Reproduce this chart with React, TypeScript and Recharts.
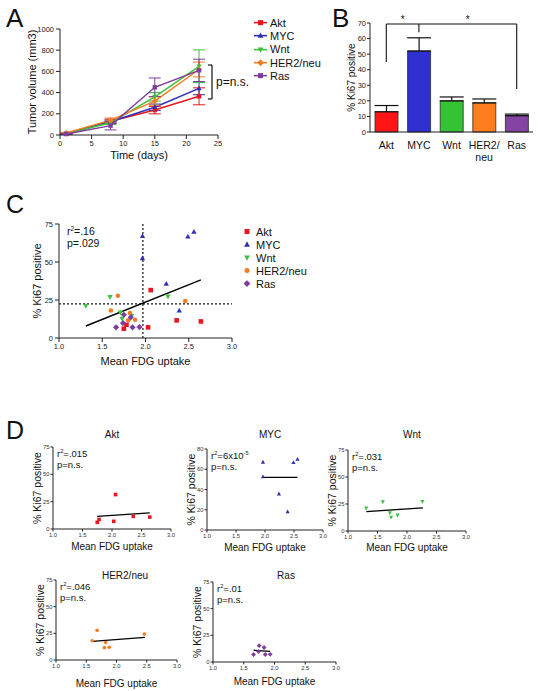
import React from 'react';
import {
  LineChart, Line, BarChart, Bar, Cell, ScatterChart, Scatter, XAxis, YAxis,
  ErrorBar, ReferenceLine, Legend, Label,
} from 'recharts';

const FONT = 'Arial, "Liberation Sans", Helvetica, sans-serif';

type Shape = 'square' | 'triangle' | 'down' | 'circle' | 'diamond';

// ---- genotype styling ----
const groups = ['Akt', 'MYC', 'Wnt', 'HER2/neu', 'Ras'];
const groupKeys = ['akt', 'myc', 'wnt', 'her', 'ras'];
const groupColors = ['#e8171d', '#2f2fb8', '#3cc23c', '#f47b20', '#7e3f9c'];
const barColors = ['#ff1515', '#2f2fd2', '#35c235', '#ff7d1e', '#8543a3'];
const growthShapes: Shape[] = ['square', 'triangle', 'down', 'diamond', 'square'];
const scatterShapes: Shape[] = ['square', 'triangle', 'down', 'circle', 'diamond'];

// ---- A: tumour volume over time ----
const days = [1, 8, 15, 22];
const aktVolume = [10, 130, 235, 365];
const aktVolumeErr = [5, 20, 35, 80];
const mycVolume = [10, 125, 262, 440];
const mycVolumeErr = [5, 15, 30, 60];
const wntVolume = [15, 115, 360, 648];
const wntVolumeErr = [5, 15, 40, 155];
const herVolume = [20, 140, 320, 618];
const herVolumeErr = [5, 20, 40, 70];
const rasVolume = [10, 88, 450, 610];
const rasVolumeErr = [5, 40, 88, 105];
const volumeTicks = [0, 200, 400, 600, 800, 1000];
const dayTicks = [0, 5, 10, 15, 20, 25];

// ---- B: Ki67 per genotype ----
const ki67Mean = [13, 52, 20, 18.7, 10.5];
const ki67Sem = [4, 8.5, 2.5, 2.5, 1];
const ki67Ticks = [0, 10, 20, 30, 40, 50, 60, 70];

// ---- C / D: Ki67 vs mean FDG uptake ----
const aktFdg = [2.06, 1.75, 1.78, 2.03, 2.36, 2.64];
const aktKi67 = [31.5, 6.1, 8.7, 7, 11.6, 10.9];
const mycFdg = [1.965, 1.965, 2.49, 2.56, 2.24, 2.39];
const mycKi67 = [67, 52.5, 66.7, 69.8, 35.6, 18];
const wntFdg = [1.31, 1.59, 2.26, 1.71, 1.73, 1.84];
const wntKi67 = [21.2, 27, 27.3, 16.8, 12.7, 14.7];
const herFdg = [1.68, 1.6, 1.82, 1.88, 1.8, 2.46];
const herKi67 = [27.8, 18.1, 16.4, 12, 11.6, 24.3];
const rasFdg = [1.66, 1.75, 1.74, 1.83, 1.85, 1.93];
const rasKi67 = [7, 15.3, 9.8, 13.6, 7, 7.2];

const allFit = [[1.31, 7.9], [2.64, 38.2]];
const aktFit = [[1.75, 11.5], [2.64, 14.8]];
const mycFit = [[1.965, 52], [2.56, 52]];
const wntFit = [[1.31, 18], [2.27, 21.5]];
const herFit = [[1.6, 17.4], [2.47, 21.3]];
const rasFit = [[1.66, 11], [1.93, 10]];
const medianFdg = 1.97;
const medianKi67 = 22.5;
const fdgTicks = [1, 1.5, 2, 2.5, 3];
const ki67Ticks75 = [0, 25, 50, 75];
const ki67Ticks80 = [0, 20, 40, 60, 80];

const growthSeries = [
  { vol: aktVolume, err: aktVolumeErr },
  { vol: mycVolume, err: mycVolumeErr },
  { vol: wntVolume, err: wntVolumeErr },
  { vol: herVolume, err: herVolumeErr },
  { vol: rasVolume, err: rasVolumeErr },
];
const growthData = days.map((day, i) => {
  const row: Record<string, number> = { day };
  groupKeys.forEach((k, g) => {
    row[k] = growthSeries[g].vol[i];
    row[k + 'Err'] = growthSeries[g].err[i];
  });
  return row;
});

const ki67Data = groups.map((name, i) => ({ name, mean: ki67Mean[i], sem: [0, ki67Sem[i]] }));

const toPoints = (xs: number[], ys: number[]) => xs.map((fdg, i) => ({ fdg, ki67: ys[i] }));
const scatterSets = [
  toPoints(aktFdg, aktKi67), toPoints(mycFdg, mycKi67), toPoints(wntFdg, wntKi67),
  toPoints(herFdg, herKi67), toPoints(rasFdg, rasKi67),
];
const seg = (f: number[][]) => f.map(([x, y]) => ({ x, y }));

function Marker({ cx, cy, shape, fill, r }: { cx?: number; cy?: number; shape: Shape; fill: string; r: number }) {
  if (cx == null || cy == null || Number.isNaN(cx) || Number.isNaN(cy)) return <g />;
  if (shape === 'square') return <rect x={cx - r} y={cy - r} width={r * 2} height={r * 2} fill={fill} />;
  if (shape === 'circle') return <circle cx={cx} cy={cy} r={r} fill={fill} />;
  if (shape === 'diamond') {
    const d = r * 1.35;
    return <polygon points={`${cx},${cy - d} ${cx + d},${cy} ${cx},${cy + d} ${cx - d},${cy}`} fill={fill} />;
  }
  const s = shape === 'triangle' ? 1 : -1;
  return (
    <polygon
      points={`${cx},${cy - s * r * 1.3} ${cx - r * 1.15},${cy + s * r * 0.85} ${cx + r * 1.15},${cy + s * r * 0.85}`}
      fill={fill}
    />
  );
}

function LegendBox({ withLine, rowH, fontSize }: { withLine: boolean; rowH: number; fontSize: number }) {
  const shapes = withLine ? growthShapes : scatterShapes;
  return (
    <div style={{ fontFamily: FONT }}>
      {groups.map((g, i) => (
        <div key={g} style={{ height: rowH, display: 'flex', alignItems: 'center', fontSize, color: '#111' }}>
          <svg width={withLine ? 15 : 10} height={rowH} style={{ marginRight: withLine ? 2 : 3 }}>
            {withLine && <line x1={1} x2={14} y1={rowH / 2} y2={rowH / 2} stroke={groupColors[i]} strokeWidth={1.6} />}
            <Marker cx={withLine ? 7.5 : 4} cy={rowH / 2} shape={shapes[i]} fill={groupColors[i]} r={2.5} />
          </svg>
          <span>{g}</span>
        </div>
      ))}
    </div>
  );
}

function Txt({ x, y, size, children, center }: { x: number; y: number; size: number; children: React.ReactNode; center?: boolean }) {
  return (
    <div style={{
      position: 'absolute', left: x, top: y, fontSize: size, lineHeight: 1, whiteSpace: 'nowrap',
      transform: center ? 'translate(-50%, -50%)' : 'translate(0, -50%)', color: '#111',
    }}>{children}</div>
  );
}

const sup = { fontSize: '0.6em', verticalAlign: 'super', lineHeight: 0 } as const;

const BracketTick = (p: any) => {
  const label = String(p.payload.value);
  const cut = label.indexOf('/');
  const lines = cut >= 0 ? [label.slice(0, cut + 1), label.slice(cut + 1)] : [label];
  return (
    <text x={p.x} y={p.y + 17} textAnchor="middle" fontSize={10.5} fill="#111">
      {lines.map((l, i) => <tspan key={i} x={p.x} dy={i ? 12 : 0}>{l}</tspan>)}
    </text>
  );
};

function FdgPanel({ x0, y0, w, h, title, titleX, titleY, g, fit, yMax, yTicks, stat, xLabelGap }: {
  x0: number; y0: number; w: number; h: number; title: string; titleX: number; titleY: number; g: number;
  fit: number[][]; yMax: number; yTicks: number[]; stat: React.ReactNode; xLabelGap: number;
}) {
  const yw = 30, mt = 10, mr = 12, xh = 32;
  return (
    <>
      <Txt x={titleX} y={titleY} size={10} center>{title}</Txt>
      <div style={{ position: 'absolute', left: x0 - yw, top: y0 - mt }}>
        <ScatterChart width={yw + w + mr} height={mt + h + xh} margin={{ top: mt, right: mr, left: 0, bottom: 0 }}>
          <XAxis type="number" dataKey="fdg" domain={[1, 3]} ticks={fdgTicks} tickFormatter={(v: number) => v.toFixed(1)}
            height={xh} tickSize={2.5} tickMargin={1} stroke="#222" tick={{ fill: '#333', fontSize: 5.8 }}>
            <Label value="Mean FDG uptake" position="center" dy={xLabelGap - xh / 2} fontSize={10} fill="#111" />
          </XAxis>
          <YAxis type="number" dataKey="ki67" domain={[0, yMax]} ticks={yTicks} width={yw}
            tickSize={2.5} tickMargin={1} stroke="#222" tick={{ fill: '#333', fontSize: 5.8 }}>
            <Label value="% Ki67 positive" position="center" angle={-90} dx={-1} fontSize={10.5} fill="#111" />
          </YAxis>
          <Scatter data={scatterSets[g]} isAnimationActive={false}
            shape={(p: any) => <Marker cx={p.cx} cy={p.cy} shape={scatterShapes[g]} fill={groupColors[g]} r={1.8} />} />
          <ReferenceLine segment={seg(fit)} stroke="#000" strokeWidth={1.3} ifOverflow="visible" />
        </ScatterChart>
      </div>
      <div style={{ position: 'absolute', left: x0 + 4, top: y0 + 1, fontSize: 9.5, lineHeight: '11px', color: '#111' }}>
        {stat}
        <div>p=n.s.</div>
      </div>
    </>
  );
}

export default function App() {
  return (
    <div style={{
      position: 'absolute', left: 0, top: 0, width: 541, height: 691, background: '#fff',
      fontFamily: FONT, color: '#111', overflow: 'hidden',
    }}>
      {/* panel letters */}
      <div style={{ position: 'absolute', left: 6, top: 5, fontSize: 26, lineHeight: 1 }}>A</div>
      <div style={{ position: 'absolute', left: 332, top: 5, fontSize: 26, lineHeight: 1 }}>B</div>
      <div style={{ position: 'absolute', left: 6, top: 192, fontSize: 25, lineHeight: 1 }}>C</div>
      <div style={{ position: 'absolute', left: 6, top: 418, fontSize: 25, lineHeight: 1 }}>D</div>

      {/* A: tumour growth */}
      <div style={{ position: 'absolute', left: 0, top: 0 }}>
        <LineChart width={330} height={170} data={growthData} margin={{ top: 29, right: 112, left: 0, bottom: 0 }}>
          <XAxis type="number" dataKey="day" domain={[0, 25]} ticks={dayTicks} height={35}
            tickSize={4} stroke="#222" tick={{ fill: '#222', fontSize: 7.5 }}>
            <Label value="Time (days)" position="center" dy={3} fontSize={11} fill="#111" />
          </XAxis>
          <YAxis type="number" domain={[0, 1000]} ticks={volumeTicks} width={60}
            tickSize={4} stroke="#222" tick={{ fill: '#222', fontSize: 7.5 }}>
            <Label value="Tumor volume (mm3)" position="center" angle={-90} dx={2} fontSize={11} fill="#111" />
          </YAxis>
          {groupKeys.map((k, i) => (
            <Line key={k} dataKey={k} name={groups[i]} type="linear" stroke={groupColors[i]} strokeWidth={1.5}
              isAnimationActive={false}
              dot={(p: any) => <Marker key={p.index} cx={p.cx} cy={p.cy} shape={growthShapes[i]} fill={groupColors[i]} r={2.2} />}>
              <ErrorBar dataKey={k + 'Err'} width={6} stroke={groupColors[i]} strokeWidth={1} isAnimationActive={false} />
            </Line>
          ))}
          <ReferenceLine segment={[{ x: 24.05, y: 340 }, { x: 24.05, y: 660 }]} stroke="#111" strokeWidth={1.2} ifOverflow="visible"
            label={{ value: 'p=n.s.', position: 'right', offset: 4, fontSize: 12, fill: '#111' }} />
          <ReferenceLine segment={[{ x: 23.4, y: 660 }, { x: 24.05, y: 660 }]} stroke="#111" strokeWidth={1.2} ifOverflow="visible" />
          <ReferenceLine segment={[{ x: 23.4, y: 340 }, { x: 24.05, y: 340 }]} stroke="#111" strokeWidth={1.2} ifOverflow="visible" />
          <Legend layout="vertical" align="center" verticalAlign="middle"
            wrapperStyle={{ left: 253, top: 16, width: 80, height: 70 }}
            content={() => <LegendBox withLine rowH={13.3} fontSize={11} />} />
        </LineChart>
      </div>

      {/* B: Ki67 bars */}
      <div style={{ position: 'absolute', left: 330, top: 0 }}>
        <BarChart width={211} height={170} data={ki67Data} margin={{ top: 23, right: 8, left: 0, bottom: 0 }}>
          <XAxis dataKey="name" height={38} tickLine={false} tickSize={0} tickMargin={0} stroke="#222" tick={BracketTick} interval={0} />
          <YAxis type="number" domain={[0, 70]} ticks={ki67Ticks} width={40}
            tickSize={3} tickMargin={1} stroke="#222" tick={{ fill: '#222', fontSize: 7.5 }}>
            <Label value="% Ki67 positive" position="center" angle={-90} dx={1} fontSize={10} fill="#111" />
          </YAxis>
          <Bar dataKey="mean" barSize={23} stroke="#2a2a2a" strokeWidth={0.8} isAnimationActive={false}>
            {ki67Data.map((d, i) => <Cell key={d.name} fill={barColors[i]} />)}
            <ErrorBar dataKey="sem" width={12} stroke="#111" strokeWidth={1.2} isAnimationActive={false} />
          </Bar>
          <ReferenceLine segment={[{ x: 'Akt', y: 45 }, { x: 'Akt', y: 69.4 }]} stroke="#111" strokeWidth={1.1} ifOverflow="visible" />
          <ReferenceLine segment={[{ x: 'Akt', y: 69.4 }, { x: 'MYC', y: 69.4 }]} stroke="#111" strokeWidth={1.1} ifOverflow="visible"
            label={{ value: '*', position: 'top', offset: 1, fontSize: 10, fill: '#111' }} />
          <ReferenceLine segment={[{ x: 'MYC', y: 64 }, { x: 'MYC', y: 69.4 }]} stroke="#111" strokeWidth={1.1} ifOverflow="visible" />
          <ReferenceLine segment={[{ x: 'MYC', y: 69.4 }, { x: 'Ras', y: 69.4 }]} stroke="#111" strokeWidth={1.1} ifOverflow="visible"
            label={{ value: '*', position: 'top', offset: 1, fontSize: 10, fill: '#111' }} />
          <ReferenceLine segment={[{ x: 'Ras', y: 27.6 }, { x: 'Ras', y: 69.4 }]} stroke="#111" strokeWidth={1.1} ifOverflow="visible" />
        </BarChart>
      </div>

      {/* C: pooled Ki67 vs FDG */}
      <div style={{ position: 'absolute', left: 0, top: 180 }}>
        <ScatterChart width={330} height={200} margin={{ top: 44, right: 98, left: 0, bottom: 0 }}>
          <XAxis type="number" dataKey="fdg" domain={[1, 3]} ticks={fdgTicks} tickFormatter={(v: number) => v.toFixed(1)}
            height={42} tickSize={4} stroke="#222" tick={{ fill: '#222', fontSize: 7.5 }}>
            <Label value="Mean FDG uptake" position="center" dy={2} fontSize={11} fill="#111" />
          </XAxis>
          <YAxis type="number" dataKey="ki67" domain={[0, 75]} ticks={ki67Ticks75} width={59}
            tickSize={4} stroke="#222" tick={{ fill: '#222', fontSize: 7.5 }}>
            <Label value="% Ki67 positive" position="center" angle={-90} dx={8} fontSize={11} fill="#111" />
          </YAxis>
          <ReferenceLine x={medianFdg} stroke="#111" strokeWidth={1.2} strokeDasharray="2 2" />
          <ReferenceLine y={medianKi67} stroke="#111" strokeWidth={1.2} strokeDasharray="2 2" />
          {scatterSets.map((pts, i) => (
            <Scatter key={groups[i]} name={groups[i]} data={pts} isAnimationActive={false}
              shape={(p: any) => <Marker cx={p.cx} cy={p.cy} shape={scatterShapes[i]} fill={groupColors[i]} r={2.3} />} />
          ))}
          <ReferenceLine segment={seg(allFit)} stroke="#000" strokeWidth={1.4} ifOverflow="visible" />
          <Legend layout="vertical" align="center" verticalAlign="middle"
            wrapperStyle={{ left: 243, top: 45, width: 85, height: 66 }}
            content={() => <LegendBox withLine={false} rowH={13} fontSize={11} />} />
        </ScatterChart>
      </div>
      <div style={{ position: 'absolute', left: 67, top: 226, fontSize: 10.5, lineHeight: '11.5px', color: '#111' }}>
        <div>r<span style={sup}>2</span>=.16</div>
        <div>p=.029</div>
      </div>

      {/* D: per-genotype correlations */}
      <FdgPanel x0={53} y0={447} w={118} h={82} title="Akt" titleX={112} titleY={435} g={0}
        fit={aktFit} yMax={75} yTicks={ki67Ticks75} xLabelGap={17} stat={<div>r<span style={sup}>2</span>=.015</div>} />
      <FdgPanel x0={207} y0={449} w={116} h={81} title="MYC" titleX={270} titleY={435} g={1}
        fit={mycFit} yMax={80} yTicks={ki67Ticks80} xLabelGap={17}
        stat={<div>r<span style={sup}>2</span>=6x10<span style={sup}>-5</span></div>} />
      <FdgPanel x0={348} y0={450} w={118} h={81} title="Wnt" titleX={412} titleY={435} g={2}
        fit={wntFit} yMax={75} yTicks={ki67Ticks75} xLabelGap={16} stat={<div>r<span style={sup}>2</span>=.031</div>} />
      <FdgPanel x0={56} y0={580} w={121} h={80} title="HER2/neu" titleX={125} titleY={576} g={3}
        fit={herFit} yMax={75} yTicks={ki67Ticks75} xLabelGap={23} stat={<div>r<span style={sup}>2</span>=.046</div>} />
      <FdgPanel x0={213} y0={582} w={123} h={80} title="Ras" titleX={286} titleY={576} g={4}
        fit={rasFit} yMax={75} yTicks={ki67Ticks75} xLabelGap={19} stat={<div>r<span style={sup}>2</span>=.01</div>} />
    </div>
  );
}
